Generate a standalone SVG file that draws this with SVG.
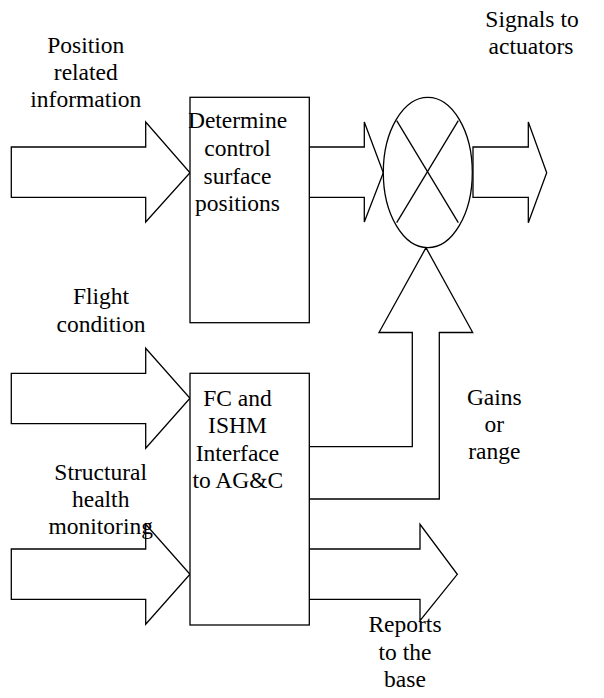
<svg xmlns="http://www.w3.org/2000/svg" width="604" height="698" viewBox="0 0 604 698">
<style>
.s{fill:#fff;stroke:#000;stroke-width:1.3;stroke-linejoin:miter}
.l{fill:none;stroke:#000;stroke-width:1.3}
.t{font-family:'Liberation Serif','DejaVu Serif',serif;font-size:23.5px;fill:#000;text-anchor:middle}
</style>
<rect width="604" height="698" fill="#fff"/>
<g id="connectors">
<polygon class="s" points="11.3,147 145.7,147 145.7,122 190,172.7 145.7,222 145.7,197.3 11.3,197.3"/>
<polygon class="s" points="309.3,147 364.3,147 364.3,122 383.3,172.7 364.3,222 364.3,197.3 309.3,197.3"/>
<polygon class="s" points="473,147 528.3,147 528.3,122 546.7,172.7 528.3,222.7 528.3,197.3 473,197.3"/>
<polygon class="s" points="11.3,373.3 145.7,373.3 145.7,348.3 190,398.3 145.7,448.3 145.7,423.7 11.3,423.7"/>
<polygon class="s" points="11.3,549 145.7,549 145.7,524.3 190,574.3 145.7,624.3 145.7,599.3 11.3,599.3"/>
<polygon class="s" points="309.3,549 420,549 420,524.3 457.3,574.3 420,620.7 420,599.3 309.3,599.3"/>
<polygon class="s" points="309.3,446.7 412.3,446.7 412.3,332.5 379,332.5 426,247.7 472.7,332.5 439.3,332.5 439.3,499 309.3,499"/>
</g>
<g id="determine">
<rect class="s" x="190" y="97.3" width="119.3" height="225.4"/>
<g class="t" font-family="Liberation Serif, serif">
<text x="237.5" y="128.3">Determine</text>
<text x="237.5" y="156">control</text>
<text x="237.5" y="183.5">surface</text>
<text x="237.5" y="211">positions</text>
</g>
</g>
<g id="interface">
<rect class="s" x="190" y="373.3" width="119.3" height="251.7"/>
<g class="t" font-family="Liberation Serif, serif">
<text x="237.5" y="406">FC and</text>
<text x="237.5" y="433">ISHM</text>
<text x="237.5" y="461">Interface</text>
<text x="237.8" y="488.3">to AG&amp;C</text>
</g>
</g>
<g id="mixer">
<ellipse class="s" cx="427.8" cy="172.5" rx="44.5" ry="75.2"/>
<line class="l" x1="396.7" y1="120.7" x2="458.3" y2="222.7"/>
<line class="l" x1="458.3" y1="120.7" x2="396.7" y2="222.7"/>
</g>
<g id="labels" class="t" font-family="Liberation Serif, serif">
<text x="85.8" y="53.3">Position</text>
<text x="85.8" y="80.3">related</text>
<text x="85.8" y="107.3">information</text>
<text x="532" y="26.7">Signals to</text>
<text x="531" y="54.3">actuators</text>
<text x="101" y="304">Flight</text>
<text x="101" y="331.7">condition</text>
<text x="100.7" y="480">Structural</text>
<text x="100.7" y="507">health</text>
<text x="100.7" y="534">monitoring</text>
<text x="494.3" y="405">Gains</text>
<text x="494.3" y="432">or</text>
<text x="494.3" y="459">range</text>
<text x="405" y="631.7">Reports</text>
<text x="405" y="659.5">to the</text>
<text x="405" y="687">base</text>
</g>
</svg>
